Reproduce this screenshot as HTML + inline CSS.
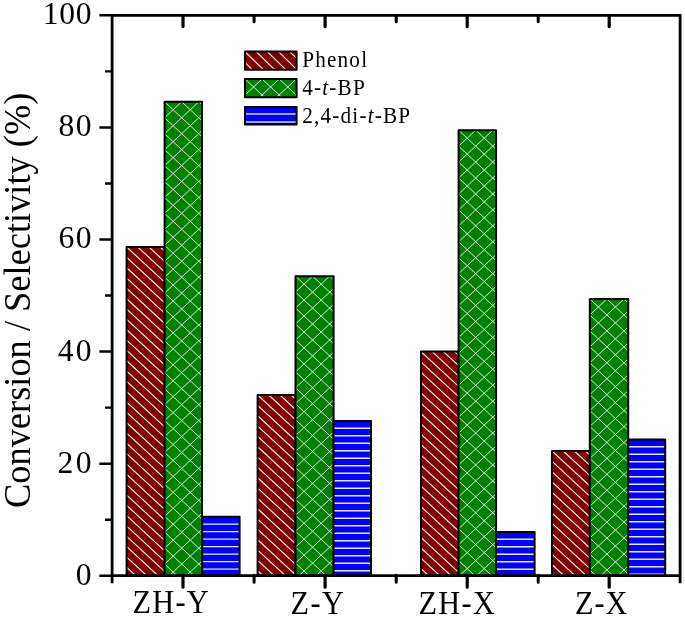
<!DOCTYPE html>
<html><head><meta charset="utf-8"><title>Conversion / Selectivity chart</title>
<style>
html,body{margin:0;padding:0;background:#fff;}
body{width:685px;height:617px;overflow:hidden;}
svg{display:block;}
text{font-family:"Liberation Serif","Times New Roman",serif;fill:#000;}
</style></head><body>
<svg width="685" height="617" viewBox="0 0 685 617">
<rect x="0" y="0" width="685" height="617" fill="#fff"/>

<rect x="126.60" y="247.00" width="38.00" height="328.70" fill="#800000"/>
<clipPath id="c0"><rect x="126.60" y="247.00" width="38.00" height="328.70"/></clipPath>
<g clip-path="url(#c0)" stroke="#fbeeee" stroke-width="1.15" fill="none">
<path d="M-242.01 247.00L113.34 575.70M-230.84 247.00L124.51 575.70M-219.67 247.00L135.68 575.70M-208.50 247.00L146.85 575.70M-197.33 247.00L158.02 575.70M-186.16 247.00L169.19 575.70M-174.99 247.00L180.36 575.70M-163.82 247.00L191.53 575.70M-152.65 247.00L202.70 575.70M-141.48 247.00L213.87 575.70M-130.31 247.00L225.04 575.70M-119.14 247.00L236.21 575.70M-107.97 247.00L247.38 575.70M-96.80 247.00L258.55 575.70M-85.63 247.00L269.72 575.70M-74.46 247.00L280.89 575.70M-63.29 247.00L292.06 575.70M-52.12 247.00L303.23 575.70M-40.95 247.00L314.40 575.70M-29.78 247.00L325.57 575.70M-18.61 247.00L336.74 575.70M-7.44 247.00L347.91 575.70M3.73 247.00L359.08 575.70M14.90 247.00L370.25 575.70M26.07 247.00L381.42 575.70M37.24 247.00L392.59 575.70M48.41 247.00L403.76 575.70M59.58 247.00L414.93 575.70M70.75 247.00L426.10 575.70M81.92 247.00L437.27 575.70M93.09 247.00L448.44 575.70M104.26 247.00L459.61 575.70M115.43 247.00L470.78 575.70M126.60 247.00L481.95 575.70M137.77 247.00L493.12 575.70M148.94 247.00L504.29 575.70M160.11 247.00L515.46 575.70M171.28 247.00L526.63 575.70M182.45 247.00L537.80 575.70"/>
</g>
<rect x="126.60" y="247.00" width="38.00" height="328.70" fill="none" stroke="#000" stroke-width="2" stroke-linejoin="round"/>
<rect x="164.60" y="101.80" width="37.40" height="473.90" fill="#008000"/>
<clipPath id="c1"><rect x="164.60" y="101.80" width="37.40" height="473.90"/></clipPath>
<g clip-path="url(#c1)" stroke="#dff2df" stroke-width="0.95" fill="none">
<path d="M-364.88 101.80L142.91 575.70M-364.88 101.80L-872.67 575.70M-347.80 101.80L159.99 575.70M-347.80 101.80L-855.59 575.70M-330.72 101.80L177.07 575.70M-330.72 101.80L-838.51 575.70M-313.64 101.80L194.15 575.70M-313.64 101.80L-821.43 575.70M-296.56 101.80L211.23 575.70M-296.56 101.80L-804.35 575.70M-279.48 101.80L228.31 575.70M-279.48 101.80L-787.27 575.70M-262.40 101.80L245.39 575.70M-262.40 101.80L-770.19 575.70M-245.32 101.80L262.47 575.70M-245.32 101.80L-753.11 575.70M-228.24 101.80L279.55 575.70M-228.24 101.80L-736.03 575.70M-211.16 101.80L296.63 575.70M-211.16 101.80L-718.95 575.70M-194.08 101.80L313.71 575.70M-194.08 101.80L-701.87 575.70M-177.00 101.80L330.79 575.70M-177.00 101.80L-684.79 575.70M-159.92 101.80L347.87 575.70M-159.92 101.80L-667.71 575.70M-142.84 101.80L364.95 575.70M-142.84 101.80L-650.63 575.70M-125.76 101.80L382.03 575.70M-125.76 101.80L-633.55 575.70M-108.68 101.80L399.11 575.70M-108.68 101.80L-616.47 575.70M-91.60 101.80L416.19 575.70M-91.60 101.80L-599.39 575.70M-74.52 101.80L433.27 575.70M-74.52 101.80L-582.31 575.70M-57.44 101.80L450.35 575.70M-57.44 101.80L-565.23 575.70M-40.36 101.80L467.43 575.70M-40.36 101.80L-548.15 575.70M-23.28 101.80L484.51 575.70M-23.28 101.80L-531.07 575.70M-6.20 101.80L501.59 575.70M-6.20 101.80L-513.99 575.70M10.88 101.80L518.67 575.70M10.88 101.80L-496.91 575.70M27.96 101.80L535.75 575.70M27.96 101.80L-479.83 575.70M45.04 101.80L552.83 575.70M45.04 101.80L-462.75 575.70M62.12 101.80L569.91 575.70M62.12 101.80L-445.67 575.70M79.20 101.80L586.99 575.70M79.20 101.80L-428.59 575.70M96.28 101.80L604.07 575.70M96.28 101.80L-411.51 575.70M113.36 101.80L621.15 575.70M113.36 101.80L-394.43 575.70M130.44 101.80L638.23 575.70M130.44 101.80L-377.35 575.70M147.52 101.80L655.31 575.70M147.52 101.80L-360.27 575.70M164.60 101.80L672.39 575.70M164.60 101.80L-343.19 575.70M181.68 101.80L689.47 575.70M181.68 101.80L-326.11 575.70M198.76 101.80L706.55 575.70M198.76 101.80L-309.03 575.70M215.84 101.80L723.63 575.70M215.84 101.80L-291.95 575.70M232.92 101.80L740.71 575.70M232.92 101.80L-274.87 575.70M250.00 101.80L757.79 575.70M250.00 101.80L-257.79 575.70M267.08 101.80L774.87 575.70M267.08 101.80L-240.71 575.70M284.16 101.80L791.95 575.70M284.16 101.80L-223.63 575.70M301.24 101.80L809.03 575.70M301.24 101.80L-206.55 575.70M318.32 101.80L826.11 575.70M318.32 101.80L-189.47 575.70M335.40 101.80L843.19 575.70M335.40 101.80L-172.39 575.70M352.48 101.80L860.27 575.70M352.48 101.80L-155.31 575.70M369.56 101.80L877.35 575.70M369.56 101.80L-138.23 575.70M386.64 101.80L894.43 575.70M386.64 101.80L-121.15 575.70M403.72 101.80L911.51 575.70M403.72 101.80L-104.07 575.70M420.80 101.80L928.59 575.70M420.80 101.80L-86.99 575.70M437.88 101.80L945.67 575.70M437.88 101.80L-69.91 575.70M454.96 101.80L962.75 575.70M454.96 101.80L-52.83 575.70M472.04 101.80L979.83 575.70M472.04 101.80L-35.75 575.70M489.12 101.80L996.91 575.70M489.12 101.80L-18.67 575.70M506.20 101.80L1013.99 575.70M506.20 101.80L-1.59 575.70M523.28 101.80L1031.07 575.70M523.28 101.80L15.49 575.70M540.36 101.80L1048.15 575.70M540.36 101.80L32.57 575.70M557.44 101.80L1065.23 575.70M557.44 101.80L49.65 575.70M574.52 101.80L1082.31 575.70M574.52 101.80L66.73 575.70M591.60 101.80L1099.39 575.70M591.60 101.80L83.81 575.70M608.68 101.80L1116.47 575.70M608.68 101.80L100.89 575.70M625.76 101.80L1133.55 575.70M625.76 101.80L117.97 575.70M642.84 101.80L1150.63 575.70M642.84 101.80L135.05 575.70M659.92 101.80L1167.71 575.70M659.92 101.80L152.13 575.70M677.00 101.80L1184.79 575.70M677.00 101.80L169.21 575.70M694.08 101.80L1201.87 575.70M694.08 101.80L186.29 575.70M711.16 101.80L1218.95 575.70M711.16 101.80L203.37 575.70M728.24 101.80L1236.03 575.70M728.24 101.80L220.45 575.70"/>
</g>
<rect x="164.60" y="101.80" width="37.40" height="473.90" fill="none" stroke="#000" stroke-width="2" stroke-linejoin="round"/>
<rect x="202.20" y="516.80" width="37.40" height="58.90" fill="#0000ff"/>
<clipPath id="c2"><rect x="202.20" y="516.80" width="37.40" height="58.90"/></clipPath>
<g clip-path="url(#c2)" stroke="#ececff" stroke-width="1.45" fill="none">
<path d="M202.20 524.10H239.60M202.20 531.60H239.60M202.20 539.10H239.60M202.20 546.60H239.60M202.20 554.10H239.60M202.20 561.60H239.60M202.20 569.10H239.60"/>
</g>
<rect x="202.20" y="516.80" width="37.40" height="58.90" fill="none" stroke="#000" stroke-width="2" stroke-linejoin="round"/>
<rect x="257.60" y="395.00" width="37.90" height="180.70" fill="#800000"/>
<clipPath id="c3"><rect x="257.60" y="395.00" width="37.90" height="180.70"/></clipPath>
<g clip-path="url(#c3)" stroke="#fbeeee" stroke-width="1.15" fill="none">
<path d="M45.37 395.00L240.72 575.70M56.54 395.00L251.89 575.70M67.71 395.00L263.06 575.70M78.88 395.00L274.23 575.70M90.05 395.00L285.40 575.70M101.22 395.00L296.57 575.70M112.39 395.00L307.74 575.70M123.56 395.00L318.91 575.70M134.73 395.00L330.08 575.70M145.90 395.00L341.25 575.70M157.07 395.00L352.42 575.70M168.24 395.00L363.59 575.70M179.41 395.00L374.76 575.70M190.58 395.00L385.93 575.70M201.75 395.00L397.10 575.70M212.92 395.00L408.27 575.70M224.09 395.00L419.44 575.70M235.26 395.00L430.61 575.70M246.43 395.00L441.78 575.70M257.60 395.00L452.95 575.70M268.77 395.00L464.12 575.70M279.94 395.00L475.29 575.70M291.11 395.00L486.46 575.70M302.28 395.00L497.63 575.70M313.45 395.00L508.80 575.70"/>
</g>
<rect x="257.60" y="395.00" width="37.90" height="180.70" fill="none" stroke="#000" stroke-width="2" stroke-linejoin="round"/>
<rect x="295.50" y="276.20" width="38.10" height="299.50" fill="#008000"/>
<clipPath id="c4"><rect x="295.50" y="276.20" width="38.10" height="299.50"/></clipPath>
<g clip-path="url(#c4)" stroke="#dff2df" stroke-width="0.95" fill="none">
<path d="M-46.10 276.20L274.82 575.70M-46.10 276.20L-367.02 575.70M-29.02 276.20L291.90 575.70M-29.02 276.20L-349.94 575.70M-11.94 276.20L308.98 575.70M-11.94 276.20L-332.86 575.70M5.14 276.20L326.06 575.70M5.14 276.20L-315.78 575.70M22.22 276.20L343.14 575.70M22.22 276.20L-298.70 575.70M39.30 276.20L360.22 575.70M39.30 276.20L-281.62 575.70M56.38 276.20L377.30 575.70M56.38 276.20L-264.54 575.70M73.46 276.20L394.38 575.70M73.46 276.20L-247.46 575.70M90.54 276.20L411.46 575.70M90.54 276.20L-230.38 575.70M107.62 276.20L428.54 575.70M107.62 276.20L-213.30 575.70M124.70 276.20L445.62 575.70M124.70 276.20L-196.22 575.70M141.78 276.20L462.70 575.70M141.78 276.20L-179.14 575.70M158.86 276.20L479.78 575.70M158.86 276.20L-162.06 575.70M175.94 276.20L496.86 575.70M175.94 276.20L-144.98 575.70M193.02 276.20L513.94 575.70M193.02 276.20L-127.90 575.70M210.10 276.20L531.02 575.70M210.10 276.20L-110.82 575.70M227.18 276.20L548.10 575.70M227.18 276.20L-93.74 575.70M244.26 276.20L565.18 575.70M244.26 276.20L-76.66 575.70M261.34 276.20L582.26 575.70M261.34 276.20L-59.58 575.70M278.42 276.20L599.34 575.70M278.42 276.20L-42.50 575.70M295.50 276.20L616.42 575.70M295.50 276.20L-25.42 575.70M312.58 276.20L633.50 575.70M312.58 276.20L-8.34 575.70M329.66 276.20L650.58 575.70M329.66 276.20L8.74 575.70M346.74 276.20L667.66 575.70M346.74 276.20L25.82 575.70M363.82 276.20L684.74 575.70M363.82 276.20L42.90 575.70M380.90 276.20L701.82 575.70M380.90 276.20L59.98 575.70M397.98 276.20L718.90 575.70M397.98 276.20L77.06 575.70M415.06 276.20L735.98 575.70M415.06 276.20L94.14 575.70M432.14 276.20L753.06 575.70M432.14 276.20L111.22 575.70M449.22 276.20L770.14 575.70M449.22 276.20L128.30 575.70M466.30 276.20L787.22 575.70M466.30 276.20L145.38 575.70M483.38 276.20L804.30 575.70M483.38 276.20L162.46 575.70M500.46 276.20L821.38 575.70M500.46 276.20L179.54 575.70M517.54 276.20L838.46 575.70M517.54 276.20L196.62 575.70M534.62 276.20L855.54 575.70M534.62 276.20L213.70 575.70M551.70 276.20L872.62 575.70M551.70 276.20L230.78 575.70M568.78 276.20L889.70 575.70M568.78 276.20L247.86 575.70M585.86 276.20L906.78 575.70M585.86 276.20L264.94 575.70M602.94 276.20L923.86 575.70M602.94 276.20L282.02 575.70M620.02 276.20L940.94 575.70M620.02 276.20L299.10 575.70M637.10 276.20L958.02 575.70M637.10 276.20L316.18 575.70M654.18 276.20L975.10 575.70M654.18 276.20L333.26 575.70M671.26 276.20L992.18 575.70M671.26 276.20L350.34 575.70M688.34 276.20L1009.26 575.70M688.34 276.20L367.42 575.70"/>
</g>
<rect x="295.50" y="276.20" width="38.10" height="299.50" fill="none" stroke="#000" stroke-width="2" stroke-linejoin="round"/>
<rect x="333.60" y="421.00" width="37.40" height="154.70" fill="#0000ff"/>
<clipPath id="c5"><rect x="333.60" y="421.00" width="37.40" height="154.70"/></clipPath>
<g clip-path="url(#c5)" stroke="#ececff" stroke-width="1.45" fill="none">
<path d="M333.60 428.30H371.00M333.60 435.80H371.00M333.60 443.30H371.00M333.60 450.80H371.00M333.60 458.30H371.00M333.60 465.80H371.00M333.60 473.30H371.00M333.60 480.80H371.00M333.60 488.30H371.00M333.60 495.80H371.00M333.60 503.30H371.00M333.60 510.80H371.00M333.60 518.30H371.00M333.60 525.80H371.00M333.60 533.30H371.00M333.60 540.80H371.00M333.60 548.30H371.00M333.60 555.80H371.00M333.60 563.30H371.00M333.60 570.80H371.00"/>
</g>
<rect x="333.60" y="421.00" width="37.40" height="154.70" fill="none" stroke="#000" stroke-width="2" stroke-linejoin="round"/>
<rect x="421.00" y="351.60" width="37.60" height="224.10" fill="#800000"/>
<clipPath id="c6"><rect x="421.00" y="351.60" width="37.60" height="224.10"/></clipPath>
<g clip-path="url(#c6)" stroke="#fbeeee" stroke-width="1.15" fill="none">
<path d="M164.09 351.60L406.36 575.70M175.26 351.60L417.53 575.70M186.43 351.60L428.70 575.70M197.60 351.60L439.87 575.70M208.77 351.60L451.04 575.70M219.94 351.60L462.21 575.70M231.11 351.60L473.38 575.70M242.28 351.60L484.55 575.70M253.45 351.60L495.72 575.70M264.62 351.60L506.89 575.70M275.79 351.60L518.06 575.70M286.96 351.60L529.23 575.70M298.13 351.60L540.40 575.70M309.30 351.60L551.57 575.70M320.47 351.60L562.74 575.70M331.64 351.60L573.91 575.70M342.81 351.60L585.08 575.70M353.98 351.60L596.25 575.70M365.15 351.60L607.42 575.70M376.32 351.60L618.59 575.70M387.49 351.60L629.76 575.70M398.66 351.60L640.93 575.70M409.83 351.60L652.10 575.70M421.00 351.60L663.27 575.70M432.17 351.60L674.44 575.70M443.34 351.60L685.61 575.70M454.51 351.60L696.78 575.70M465.68 351.60L707.95 575.70M476.85 351.60L719.12 575.70"/>
</g>
<rect x="421.00" y="351.60" width="37.60" height="224.10" fill="none" stroke="#000" stroke-width="2" stroke-linejoin="round"/>
<rect x="458.60" y="130.20" width="37.40" height="445.50" fill="#008000"/>
<clipPath id="c7"><rect x="458.60" y="130.20" width="37.40" height="445.50"/></clipPath>
<g clip-path="url(#c7)" stroke="#dff2df" stroke-width="0.95" fill="none">
<path d="M-36.72 130.20L440.64 575.70M-36.72 130.20L-514.08 575.70M-19.64 130.20L457.72 575.70M-19.64 130.20L-497.00 575.70M-2.56 130.20L474.80 575.70M-2.56 130.20L-479.92 575.70M14.52 130.20L491.88 575.70M14.52 130.20L-462.84 575.70M31.60 130.20L508.96 575.70M31.60 130.20L-445.76 575.70M48.68 130.20L526.04 575.70M48.68 130.20L-428.68 575.70M65.76 130.20L543.12 575.70M65.76 130.20L-411.60 575.70M82.84 130.20L560.20 575.70M82.84 130.20L-394.52 575.70M99.92 130.20L577.28 575.70M99.92 130.20L-377.44 575.70M117.00 130.20L594.36 575.70M117.00 130.20L-360.36 575.70M134.08 130.20L611.44 575.70M134.08 130.20L-343.28 575.70M151.16 130.20L628.52 575.70M151.16 130.20L-326.20 575.70M168.24 130.20L645.60 575.70M168.24 130.20L-309.12 575.70M185.32 130.20L662.68 575.70M185.32 130.20L-292.04 575.70M202.40 130.20L679.76 575.70M202.40 130.20L-274.96 575.70M219.48 130.20L696.84 575.70M219.48 130.20L-257.88 575.70M236.56 130.20L713.92 575.70M236.56 130.20L-240.80 575.70M253.64 130.20L731.00 575.70M253.64 130.20L-223.72 575.70M270.72 130.20L748.08 575.70M270.72 130.20L-206.64 575.70M287.80 130.20L765.16 575.70M287.80 130.20L-189.56 575.70M304.88 130.20L782.24 575.70M304.88 130.20L-172.48 575.70M321.96 130.20L799.32 575.70M321.96 130.20L-155.40 575.70M339.04 130.20L816.40 575.70M339.04 130.20L-138.32 575.70M356.12 130.20L833.48 575.70M356.12 130.20L-121.24 575.70M373.20 130.20L850.56 575.70M373.20 130.20L-104.16 575.70M390.28 130.20L867.64 575.70M390.28 130.20L-87.08 575.70M407.36 130.20L884.72 575.70M407.36 130.20L-70.00 575.70M424.44 130.20L901.80 575.70M424.44 130.20L-52.92 575.70M441.52 130.20L918.88 575.70M441.52 130.20L-35.84 575.70M458.60 130.20L935.96 575.70M458.60 130.20L-18.76 575.70M475.68 130.20L953.04 575.70M475.68 130.20L-1.68 575.70M492.76 130.20L970.12 575.70M492.76 130.20L15.40 575.70M509.84 130.20L987.20 575.70M509.84 130.20L32.48 575.70M526.92 130.20L1004.28 575.70M526.92 130.20L49.56 575.70M544.00 130.20L1021.36 575.70M544.00 130.20L66.64 575.70M561.08 130.20L1038.44 575.70M561.08 130.20L83.72 575.70M578.16 130.20L1055.52 575.70M578.16 130.20L100.80 575.70M595.24 130.20L1072.60 575.70M595.24 130.20L117.88 575.70M612.32 130.20L1089.68 575.70M612.32 130.20L134.96 575.70M629.40 130.20L1106.76 575.70M629.40 130.20L152.04 575.70M646.48 130.20L1123.84 575.70M646.48 130.20L169.12 575.70M663.56 130.20L1140.92 575.70M663.56 130.20L186.20 575.70M680.64 130.20L1158.00 575.70M680.64 130.20L203.28 575.70M697.72 130.20L1175.08 575.70M697.72 130.20L220.36 575.70M714.80 130.20L1192.16 575.70M714.80 130.20L237.44 575.70M731.88 130.20L1209.24 575.70M731.88 130.20L254.52 575.70M748.96 130.20L1226.32 575.70M748.96 130.20L271.60 575.70M766.04 130.20L1243.40 575.70M766.04 130.20L288.68 575.70M783.12 130.20L1260.48 575.70M783.12 130.20L305.76 575.70M800.20 130.20L1277.56 575.70M800.20 130.20L322.84 575.70M817.28 130.20L1294.64 575.70M817.28 130.20L339.92 575.70M834.36 130.20L1311.72 575.70M834.36 130.20L357.00 575.70M851.44 130.20L1328.80 575.70M851.44 130.20L374.08 575.70M868.52 130.20L1345.88 575.70M868.52 130.20L391.16 575.70M885.60 130.20L1362.96 575.70M885.60 130.20L408.24 575.70M902.68 130.20L1380.04 575.70M902.68 130.20L425.32 575.70M919.76 130.20L1397.12 575.70M919.76 130.20L442.40 575.70M936.84 130.20L1414.20 575.70M936.84 130.20L459.48 575.70M953.92 130.20L1431.28 575.70M953.92 130.20L476.56 575.70M971.00 130.20L1448.36 575.70M971.00 130.20L493.64 575.70M988.08 130.20L1465.44 575.70M988.08 130.20L510.72 575.70M1005.16 130.20L1482.52 575.70M1005.16 130.20L527.80 575.70"/>
</g>
<rect x="458.60" y="130.20" width="37.40" height="445.50" fill="none" stroke="#000" stroke-width="2" stroke-linejoin="round"/>
<rect x="496.00" y="532.00" width="38.60" height="43.70" fill="#0000ff"/>
<clipPath id="c8"><rect x="496.00" y="532.00" width="38.60" height="43.70"/></clipPath>
<g clip-path="url(#c8)" stroke="#ececff" stroke-width="1.45" fill="none">
<path d="M496.00 539.30H534.60M496.00 546.80H534.60M496.00 554.30H534.60M496.00 561.80H534.60M496.00 569.30H534.60"/>
</g>
<rect x="496.00" y="532.00" width="38.60" height="43.70" fill="none" stroke="#000" stroke-width="2" stroke-linejoin="round"/>
<rect x="552.00" y="451.00" width="37.80" height="124.70" fill="#800000"/>
<clipPath id="c9"><rect x="552.00" y="451.00" width="37.80" height="124.70"/></clipPath>
<g clip-path="url(#c9)" stroke="#fbeeee" stroke-width="1.15" fill="none">
<path d="M395.62 451.00L530.43 575.70M406.79 451.00L541.60 575.70M417.96 451.00L552.77 575.70M429.13 451.00L563.94 575.70M440.30 451.00L575.11 575.70M451.47 451.00L586.28 575.70M462.64 451.00L597.45 575.70M473.81 451.00L608.62 575.70M484.98 451.00L619.79 575.70M496.15 451.00L630.96 575.70M507.32 451.00L642.13 575.70M518.49 451.00L653.30 575.70M529.66 451.00L664.47 575.70M540.83 451.00L675.64 575.70M552.00 451.00L686.81 575.70M563.17 451.00L697.98 575.70M574.34 451.00L709.15 575.70M585.51 451.00L720.32 575.70M596.68 451.00L731.49 575.70M607.85 451.00L742.66 575.70"/>
</g>
<rect x="552.00" y="451.00" width="37.80" height="124.70" fill="none" stroke="#000" stroke-width="2" stroke-linejoin="round"/>
<rect x="589.80" y="299.00" width="38.40" height="276.70" fill="#008000"/>
<clipPath id="c10"><rect x="589.80" y="299.00" width="38.40" height="276.70"/></clipPath>
<g clip-path="url(#c10)" stroke="#dff2df" stroke-width="0.95" fill="none">
<path d="M265.28 299.00L561.77 575.70M265.28 299.00L-31.21 575.70M282.36 299.00L578.85 575.70M282.36 299.00L-14.13 575.70M299.44 299.00L595.93 575.70M299.44 299.00L2.95 575.70M316.52 299.00L613.01 575.70M316.52 299.00L20.03 575.70M333.60 299.00L630.09 575.70M333.60 299.00L37.11 575.70M350.68 299.00L647.17 575.70M350.68 299.00L54.19 575.70M367.76 299.00L664.25 575.70M367.76 299.00L71.27 575.70M384.84 299.00L681.33 575.70M384.84 299.00L88.35 575.70M401.92 299.00L698.41 575.70M401.92 299.00L105.43 575.70M419.00 299.00L715.49 575.70M419.00 299.00L122.51 575.70M436.08 299.00L732.57 575.70M436.08 299.00L139.59 575.70M453.16 299.00L749.65 575.70M453.16 299.00L156.67 575.70M470.24 299.00L766.73 575.70M470.24 299.00L173.75 575.70M487.32 299.00L783.81 575.70M487.32 299.00L190.83 575.70M504.40 299.00L800.89 575.70M504.40 299.00L207.91 575.70M521.48 299.00L817.97 575.70M521.48 299.00L224.99 575.70M538.56 299.00L835.05 575.70M538.56 299.00L242.07 575.70M555.64 299.00L852.13 575.70M555.64 299.00L259.15 575.70M572.72 299.00L869.21 575.70M572.72 299.00L276.23 575.70M589.80 299.00L886.29 575.70M589.80 299.00L293.31 575.70M606.88 299.00L903.37 575.70M606.88 299.00L310.39 575.70M623.96 299.00L920.45 575.70M623.96 299.00L327.47 575.70M641.04 299.00L937.53 575.70M641.04 299.00L344.55 575.70M658.12 299.00L954.61 575.70M658.12 299.00L361.63 575.70M675.20 299.00L971.69 575.70M675.20 299.00L378.71 575.70M692.28 299.00L988.77 575.70M692.28 299.00L395.79 575.70M709.36 299.00L1005.85 575.70M709.36 299.00L412.87 575.70M726.44 299.00L1022.93 575.70M726.44 299.00L429.95 575.70M743.52 299.00L1040.01 575.70M743.52 299.00L447.03 575.70M760.60 299.00L1057.09 575.70M760.60 299.00L464.11 575.70M777.68 299.00L1074.17 575.70M777.68 299.00L481.19 575.70M794.76 299.00L1091.25 575.70M794.76 299.00L498.27 575.70M811.84 299.00L1108.33 575.70M811.84 299.00L515.35 575.70M828.92 299.00L1125.41 575.70M828.92 299.00L532.43 575.70M846.00 299.00L1142.49 575.70M846.00 299.00L549.51 575.70M863.08 299.00L1159.57 575.70M863.08 299.00L566.59 575.70M880.16 299.00L1176.65 575.70M880.16 299.00L583.67 575.70M897.24 299.00L1193.73 575.70M897.24 299.00L600.75 575.70M914.32 299.00L1210.81 575.70M914.32 299.00L617.83 575.70M931.40 299.00L1227.89 575.70M931.40 299.00L634.91 575.70M948.48 299.00L1244.97 575.70M948.48 299.00L651.99 575.70"/>
</g>
<rect x="589.80" y="299.00" width="38.40" height="276.70" fill="none" stroke="#000" stroke-width="2" stroke-linejoin="round"/>
<rect x="628.20" y="439.50" width="37.00" height="136.20" fill="#0000ff"/>
<clipPath id="c11"><rect x="628.20" y="439.50" width="37.00" height="136.20"/></clipPath>
<g clip-path="url(#c11)" stroke="#ececff" stroke-width="1.45" fill="none">
<path d="M628.20 446.80H665.20M628.20 454.30H665.20M628.20 461.80H665.20M628.20 469.30H665.20M628.20 476.80H665.20M628.20 484.30H665.20M628.20 491.80H665.20M628.20 499.30H665.20M628.20 506.80H665.20M628.20 514.30H665.20M628.20 521.80H665.20M628.20 529.30H665.20M628.20 536.80H665.20M628.20 544.30H665.20M628.20 551.80H665.20M628.20 559.30H665.20M628.20 566.80H665.20M628.20 574.30H665.20"/>
</g>
<rect x="628.20" y="439.50" width="37.00" height="136.20" fill="none" stroke="#000" stroke-width="2" stroke-linejoin="round"/>
<g stroke="#000" stroke-width="2.8" fill="none" stroke-linecap="butt">
<path d="M110.70 15.3H681.50M110.70 575.7H681.50M112.1 13.90V583.2M680.1 13.90V583.2"/>
<path stroke-width="2.5" d="M99.4 575.80H112.1M99.4 463.70H112.1M99.4 351.60H112.1M99.4 239.50H112.1M99.4 127.40H112.1M99.4 15.30H112.1"/>
<path stroke-width="2.4" d="M105 519.75H112.1M105 407.65H112.1M105 295.55H112.1M105 183.45H112.1M105 71.35H112.1"/>
<path stroke-width="3.2" stroke-linecap="round" d="M183.0 575.3000000000001V587.2M183.0 15.700000000000001V26.6M325.1 575.3000000000001V587.2M325.1 15.700000000000001V26.6M467.2 575.3000000000001V587.2M467.2 15.700000000000001V26.6M609.2 575.3000000000001V587.2M609.2 15.700000000000001V26.6"/>
<path stroke-width="3.0" stroke-linecap="round" d="M254.1 575.3000000000001V582.2M254.1 15.700000000000001V21.7M396.2 575.3000000000001V582.2M396.2 15.700000000000001V21.7M538.2 575.3000000000001V582.2M538.2 15.700000000000001V21.7"/>
</g>
<text transform="translate(92.20 584.70)" font-size="31.6" text-anchor="end" letter-spacing="0.7">0</text>
<text transform="translate(93.90 472.60)" font-size="31.6" text-anchor="end" letter-spacing="2.4">20</text>
<text transform="translate(93.70 360.50)" font-size="31.6" text-anchor="end" letter-spacing="2.2">40</text>
<text transform="translate(92.90 248.40)" font-size="31.6" text-anchor="end" letter-spacing="1.4">60</text>
<text transform="translate(92.90 136.30)" font-size="31.6" text-anchor="end" letter-spacing="1.4">80</text>
<text transform="translate(92.20 24.20)" font-size="31.6" text-anchor="end" letter-spacing="0.7">100</text>
<text transform="translate(132.5 612.8) scale(1 1.11)" font-size="30.3" letter-spacing="1.3">ZH-Y</text>
<text transform="translate(290.6 614.0) scale(1 1.11)" font-size="30.3" letter-spacing="1.4">Z-Y</text>
<text transform="translate(418.4 614.2) scale(1 1.11)" font-size="30.3" letter-spacing="1.4">ZH-X</text>
<text transform="translate(575.0 614.2) scale(1 1.11)" font-size="30.3" letter-spacing="1.0">Z-X</text>
<text transform="translate(30.4 508) rotate(-90) scale(1 1.05)" font-size="36.4">Conversion / Selectivity (%)</text>
<rect x="245.0" y="51.60" width="51.60" height="18.10" fill="#800000"/>
<clipPath id="l0"><rect x="245.00" y="51.60" width="51.60" height="18.10"/></clipPath>
<g clip-path="url(#l0)" stroke="#fbeeee" stroke-width="1.15" fill="none">
<path d="M211.49 51.60L229.96 69.70M222.66 51.60L241.13 69.70M233.83 51.60L252.30 69.70M245.00 51.60L263.47 69.70M256.17 51.60L274.64 69.70M267.34 51.60L285.81 69.70M278.51 51.60L296.98 69.70M289.68 51.60L308.15 69.70M300.85 51.60L319.32 69.70M312.02 51.60L330.49 69.70"/>
</g>
<rect x="245.0" y="51.60" width="51.60" height="18.10" fill="none" stroke="#000" stroke-width="2" stroke-linejoin="round"/>
<text transform="translate(302.2 67.3) scale(1 1.04)" font-size="21.2" letter-spacing="1.2">Phenol</text>
<rect x="245.0" y="79.00" width="51.60" height="18.20" fill="#008000"/>
<clipPath id="l1"><rect x="245.00" y="79.00" width="51.60" height="18.20"/></clipPath>
<g clip-path="url(#l1)" stroke="#dff2df" stroke-width="0.95" fill="none">
<path d="M193.76 79.00L213.26 97.20M193.76 79.00L174.26 97.20M210.84 79.00L230.34 97.20M210.84 79.00L191.34 97.20M227.92 79.00L247.42 97.20M227.92 79.00L208.42 97.20M245.00 79.00L264.50 97.20M245.00 79.00L225.50 97.20M262.08 79.00L281.58 97.20M262.08 79.00L242.58 97.20M279.16 79.00L298.66 97.20M279.16 79.00L259.66 97.20M296.24 79.00L315.74 97.20M296.24 79.00L276.74 97.20M313.32 79.00L332.82 97.20M313.32 79.00L293.82 97.20M330.40 79.00L349.90 97.20M330.40 79.00L310.90 97.20M347.48 79.00L366.98 97.20M347.48 79.00L327.98 97.20"/>
</g>
<rect x="245.0" y="79.00" width="51.60" height="18.20" fill="none" stroke="#000" stroke-width="2" stroke-linejoin="round"/>
<text transform="translate(302.2 94.89999999999999) scale(1 1.04)" font-size="21.2" letter-spacing="1.2">4-<tspan font-style="italic">t</tspan>-BP</text>
<rect x="245.0" y="107.00" width="51.60" height="17.60" fill="#0000ff"/>
<path stroke="#d6d6ff" stroke-width="1.5" d="M245.0 113.90H296.6M245.0 122.00H296.6"/>
<rect x="245.0" y="107.00" width="51.60" height="17.60" fill="none" stroke="#000" stroke-width="2" stroke-linejoin="round"/>
<text transform="translate(302.2 122.7) scale(1 1.04)" font-size="21.2" letter-spacing="1.2">2,4-di-<tspan font-style="italic">t</tspan>-BP</text>
</svg>
</body></html>
